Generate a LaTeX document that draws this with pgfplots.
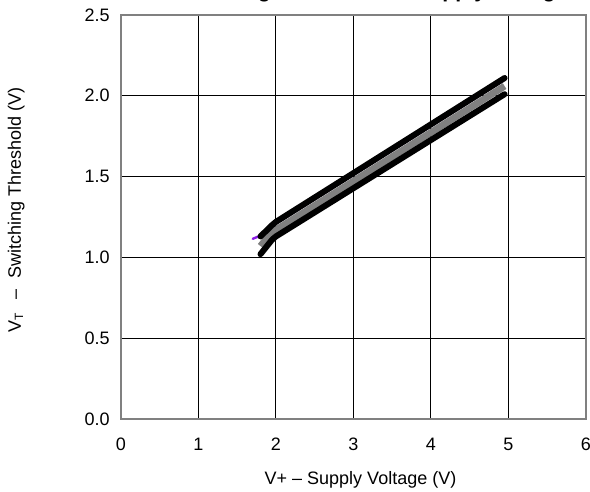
\documentclass[border=0pt]{standalone}
\usepackage{fontspec}
\setmainfont{Liberation Sans}
\usepackage{pgfplots}
\pgfplotsset{compat=1.18}
\definecolor{purp}{RGB}{140,30,230}
\begin{document}
\fontsize{9pt}{11pt}\selectfont
\begin{tikzpicture}
\begin{axis}[
  at={(0,0)}, anchor=south west,
  scale only axis, width=232.5pt, height=202pt,
  xmin=0, xmax=6, ymin=0, ymax=2.5,
  xtick={0,1,2,3,4,5,6},
  xticklabels={0,1,2,3,4,5,6},
  ytick={0,0.5,1,1.5,2,2.5},
  yticklabels={0.0,0.5,1.0,1.5,2.0,2.5},
  grid=major,
  major grid style={black, line width=0.5pt},
  axis line style={gray, line width=1pt},
  tick style={draw=none},
  clip=false,
  ticklabel style={font=\fontsize{9pt}{11pt}\selectfont},
  xticklabel style={yshift=-6.3pt},
  yticklabel style={xshift=-2.5pt},
]
\addplot[purp, line width=1.2pt, line cap=round] coordinates {(1.70,1.115) (1.8,1.135) (2.0,1.21) (4.95,2.10)};
\addplot[gray, line width=3.4pt, line join=round] coordinates {(1.8,1.07) (1.9,1.13) (2.0,1.17) (4.95,2.06)};
\addplot[black, line width=3pt, line cap=round, line join=round] coordinates {(1.8,1.13) (1.95,1.20) (2.0,1.22) (4.95,2.11)};
\addplot[black, line width=3pt, line cap=round, line join=round] coordinates {(1.8,1.02) (1.95,1.11) (2.0,1.13) (4.95,2.01)};
\end{axis}
\node[anchor=base, font=\bfseries\fontsize{10.65pt}{12pt}\selectfont] at (123.9pt,210.75pt) {Switching Threshold vs Supply Voltage};
\node[anchor=base, inner sep=0pt] at (119.75pt,-33pt) {V+ – Supply Voltage (V)};
\node[rotate=90, anchor=base west, inner sep=0pt] at (-50pt,43pt) {V\textsubscript{T}\hspace{6.5pt}–\hspace{5.5pt}Switching Threshold (V)};
\pgfresetboundingbox
\path[use as bounding box] (-60.5pt,-36.5pt) rectangle (234.5pt,209.5pt);
\end{tikzpicture}
\end{document}
